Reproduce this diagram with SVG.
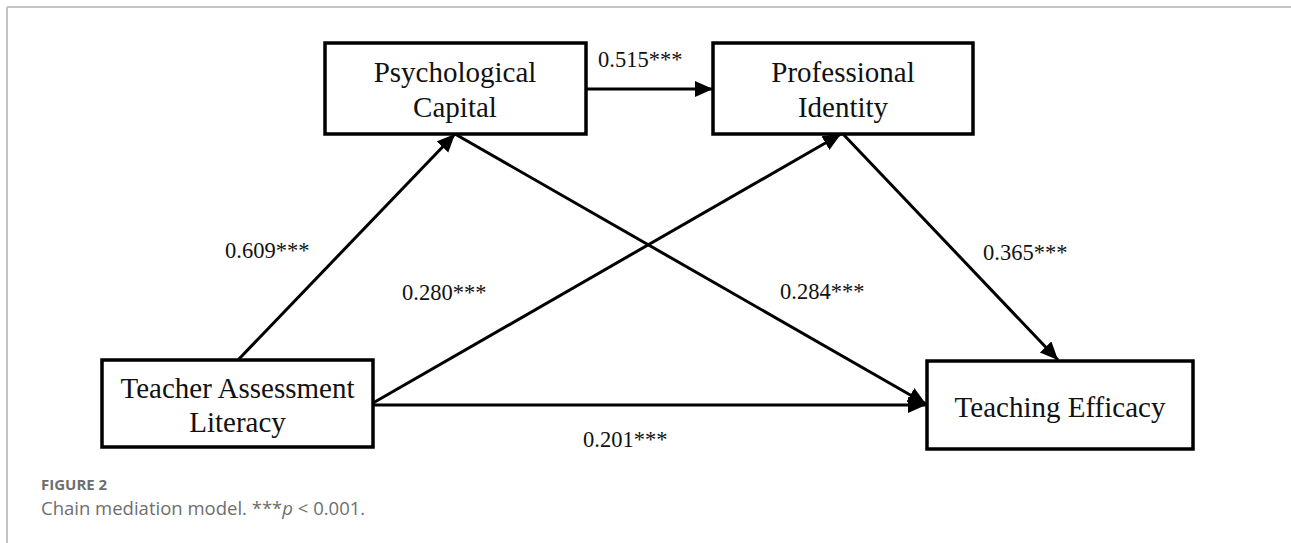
<svg xmlns="http://www.w3.org/2000/svg" width="1291" height="543" viewBox="0 0 1291 543">
  <style>
    .box { fill: #fff; stroke: #000; stroke-width: 3.5; }
    .node { font-family: "Liberation Serif", "Times New Roman", serif; font-size: 29px; fill: #111; text-anchor: middle; }
    .lbl { font-family: "Liberation Serif", "Times New Roman", serif; font-size: 22.5px; fill: #111; }
    .edge { stroke: #000; stroke-width: 3; fill: none; marker-end: url(#arrow); }
    .cap1 { font-family: "Open Sans", "Noto Sans", sans-serif; font-size: 15px; font-weight: bold; fill: #6e6e6e; }
    .cap2 { font-family: "Open Sans", "Noto Sans", sans-serif; font-size: 18.5px; fill: #6e6e6e; }
  </style>
  <defs>
    <marker id="arrow" markerUnits="userSpaceOnUse" markerWidth="19" markerHeight="17" refX="18" refY="8" orient="auto">
      <path d="M0,0 L18,8 L0,16 z" fill="#000"/>
    </marker>
  </defs>
  <rect width="1291" height="543" fill="#fff"/>
  <g id="frame">
    <line x1="7" y1="7" x2="1291" y2="7" stroke="#c4c4c4" stroke-width="2"/>
    <line x1="7" y1="7" x2="7" y2="543" stroke="#c4c4c4" stroke-width="2"/>
  </g>
  <g id="connectors">
    <line class="edge" x1="586" y1="89" x2="713" y2="89"/>
    <line class="edge" x1="238" y1="360" x2="455" y2="134"/>
    <line class="edge" x1="373" y1="403" x2="841" y2="134"/>
    <line class="edge" x1="455" y1="134" x2="926" y2="404"/>
    <line class="edge" x1="843" y1="134" x2="1058" y2="360"/>
    <line class="edge" x1="373" y1="405" x2="926" y2="405"/>
  </g>
  <g id="labels">
    <text class="lbl" x="598" y="67">0.515***</text>
    <text class="lbl" x="225" y="258">0.609***</text>
    <text class="lbl" x="402" y="300">0.280***</text>
    <text class="lbl" x="780" y="299">0.284***</text>
    <text class="lbl" x="983" y="260">0.365***</text>
    <text class="lbl" x="583" y="447">0.201***</text>
  </g>
  <g id="node-pc">
    <rect class="box" x="325" y="43" width="261" height="91"/>
    <text class="node" x="455" y="82">Psychological</text>
    <text class="node" x="455" y="117">Capital</text>
  </g>
  <g id="node-pi">
    <rect class="box" x="713" y="43" width="260" height="91"/>
    <text class="node" x="843" y="82">Professional</text>
    <text class="node" x="843" y="117">Identity</text>
  </g>
  <g id="node-tal">
    <rect class="box" x="102" y="360" width="271" height="87"/>
    <text class="node" x="237.5" y="398">Teacher Assessment</text>
    <text class="node" x="237.5" y="432">Literacy</text>
  </g>
  <g id="node-te">
    <rect class="box" x="927" y="361" width="266" height="88"/>
    <text class="node" x="1060" y="417">Teaching Efficacy</text>
  </g>
  <g id="caption">
    <text class="cap1" x="41" y="490">FIGURE 2</text>
    <text class="cap2" x="41" y="515">Chain mediation model. ***<tspan font-style="italic">p</tspan> &lt; 0.001.</text>
  </g>
</svg>
